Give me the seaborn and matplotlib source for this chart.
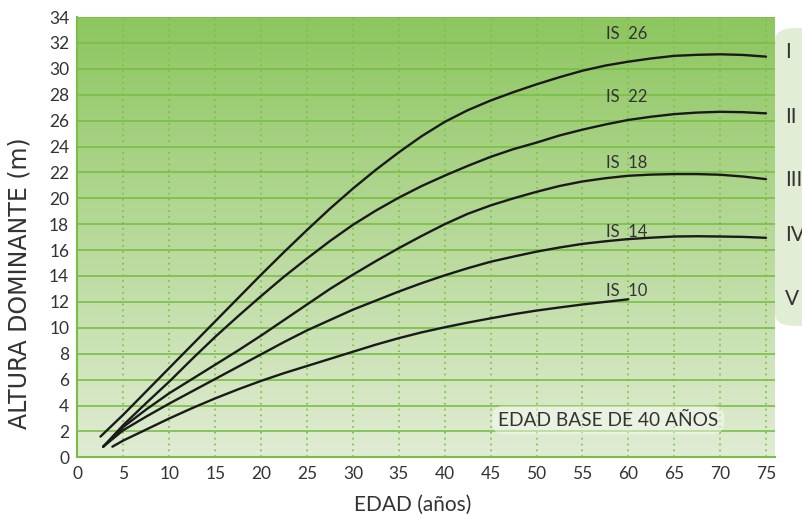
import numpy as np
import pandas as pd
import matplotlib
matplotlib.use("Agg")
import matplotlib.pyplot as plt
import seaborn as sns
from matplotlib.patches import FancyBboxPatch

# Site-index curves (edad en años, altura dominante en m)
edad_26 = [2.5, 5, 7.5, 10, 12.5, 15, 17.5, 20, 22.5, 25, 27.5, 30, 32.5, 35, 37.5, 40,
           42.5, 45, 47.5, 50, 52.5, 55, 57.5, 60, 62.5, 65, 67.5, 70, 72.5, 75]
alt_26 = [1.6, 3.3, 5.1, 6.9, 8.7, 10.5, 12.3, 14.1, 15.85, 17.55, 19.2, 20.75, 22.2, 23.55, 24.8, 25.9,
          26.8, 27.55, 28.2, 28.8, 29.35, 29.85, 30.25, 30.55, 30.8, 31.0, 31.08, 31.12, 31.07, 30.94]

edad_22 = [2.8, 5, 7.5, 10, 12.5, 15, 17.5, 20, 22.5, 25, 27.5, 30, 32.5, 35, 37.5, 40,
           42.5, 45, 47.5, 50, 52.5, 55, 57.5, 60, 62.5, 65, 67.5, 70, 72.5, 75]
alt_22 = [0.82, 2.5, 4.2, 5.85, 7.6, 9.3, 10.9, 12.45, 13.95, 15.35, 16.7, 17.95, 19.05, 20.05, 20.95, 21.75,
          22.5, 23.2, 23.8, 24.3, 24.85, 25.3, 25.7, 26.05, 26.3, 26.5, 26.62, 26.68, 26.65, 26.56]

edad_18 = [2.8, 5, 7.5, 10, 12.5, 15, 17.5, 20, 22.5, 25, 27.5, 30, 32.5, 35, 37.5, 40,
           42.5, 45, 47.5, 50, 52.5, 55, 57.5, 60, 62.5, 65, 67.5, 70, 72.5, 75]
alt_18 = [0.82, 2.35, 3.7, 4.95, 6.05, 7.15, 8.25, 9.4, 10.6, 11.8, 13.0, 14.1, 15.15, 16.15, 17.1, 18.0,
          18.8, 19.45, 20.0, 20.5, 20.95, 21.3, 21.55, 21.74, 21.83, 21.87, 21.87, 21.82, 21.68, 21.48]

edad_14 = [2.8, 5, 7.5, 10, 12.5, 15, 17.5, 20, 22.5, 25, 27.5, 30, 32.5, 35, 37.5, 40,
           42.5, 45, 47.5, 50, 52.5, 55, 57.5, 60, 62.5, 65, 67.5, 70, 72.5, 75]
alt_14 = [0.82, 2.1, 3.15, 4.15, 5.1, 6.05, 7.0, 7.95, 8.9, 9.8, 10.6, 11.4, 12.1, 12.8, 13.45, 14.05,
          14.6, 15.1, 15.5, 15.88, 16.2, 16.48, 16.68, 16.85, 16.96, 17.05, 17.07, 17.05, 17.02, 16.95]

edad_10 = [3.8, 5, 7.5, 10, 12.5, 15, 17.5, 20, 22.5, 25, 27.5, 30, 32.5, 35, 37.5, 40,
           42.5, 45, 47.5, 50, 52.5, 55, 57.5, 60]
alt_10 = [0.82, 1.3, 2.15, 3.0, 3.8, 4.55, 5.25, 5.9, 6.5, 7.05, 7.6, 8.15, 8.7, 9.2, 9.65, 10.04,
          10.4, 10.73, 11.05, 11.33, 11.57, 11.8, 12.0, 12.2]

curvas = [("IS  26", edad_26, alt_26, 32.7),
          ("IS  22", edad_22, alt_22, 27.85),
          ("IS  18", edad_18, alt_18, 22.75),
          ("IS  14", edad_14, alt_14, 17.42),
          ("IS  10", edad_10, alt_10, 12.87)]
clases = ["I", "II", "III", "IV", "V"]
clase_y = [31.3, 26.3, 21.4, 17.2, 12.2]

x_ticks = list(range(0, 80, 5))
y_ticks = list(range(0, 36, 2))

sns.set_style("white")
plt.rcParams["font.family"] = ["Lato", "DejaVu Sans"]
text_col = "#333333"
grid_col = "#79bf45"

fig = plt.figure(figsize=(8.03, 5.16), dpi=100)
x0, x1 = 77.5, 775.0
ax = fig.add_axes([x0 / 803, (516 - 457.3) / 516, (x1 - x0) / 803, (457.3 - 17) / 516])
xmax = (x1 - x0) / 9.18
ax.set_xlim(0, xmax)
ax.set_ylim(0, 34)

# right panel with class numerals
panel = FancyBboxPatch((775 / 803, (516 - 326) / 516), 60 / 803, 298 / 516,
                       boxstyle="round,pad=0,rounding_size=0.025",
                       transform=fig.transFigure, facecolor="#e2edd6",
                       edgecolor="none", zorder=-1)
fig.patches.append(panel)

# background gradient
top = np.array([141, 198, 95]) / 255
bot = np.array([225, 236, 212]) / 255
t = np.linspace(0, 1, 256)[:, None]
grad = (top * (1 - t) + bot * t)[:, None, :]
ax.imshow(grad, extent=[0, xmax, 0, 34], aspect="auto", zorder=0, origin="upper")

for yv in y_ticks:
    ax.axhline(yv, color=grid_col, lw=1.2, zorder=1)
for xv in x_ticks[1:]:
    ax.axvline(xv, color=grid_col, lw=1.2, ls=(0, (1, 2.5)), zorder=1)

for lab, ed, al, ly in curvas:
    sns.lineplot(x=ed, y=al, ax=ax, color="#1a1a1a", lw=1.7, zorder=3)
    ax.text(57.6, ly, lab, fontsize=12, color=text_col, va="center", ha="left", zorder=4)

for c, cy in zip(clases, clase_y):
    ax.text(77.1, cy, c, fontsize=15, color=text_col, va="center", ha="left", clip_on=False)

ax.text(57.8, 2.88, "EDAD BASE DE 40 AÑOS", fontsize=13.8, color=text_col,
        ha="center", va="center", zorder=4,
        bbox=dict(boxstyle="round,pad=0.3,rounding_size=0.6", facecolor="white",
                  alpha=0.45, edgecolor="none"))

ax.set_xticks(x_ticks)
ax.set_yticks(y_ticks)
ax.tick_params(axis="both", labelsize=12.5, colors=text_col, length=4, width=1.2,
               color=grid_col, pad=2)
for s in ["top", "right"]:
    ax.spines[s].set_visible(False)
for s in ["left", "bottom"]:
    ax.spines[s].set_color(grid_col)
    ax.spines[s].set_linewidth(1.5)
ax.set_xlabel("EDAD (años)", fontsize=15, color=text_col)
ax.set_ylabel("ALTURA DOMINANTE (m)", fontsize=17, color=text_col,
              family=["DejaVu Sans"])
ax.xaxis.set_label_coords(0.48, -0.086)
ax.yaxis.set_label_coords(-0.066, 0.396)

fig.savefig("out.png", dpi=100)
